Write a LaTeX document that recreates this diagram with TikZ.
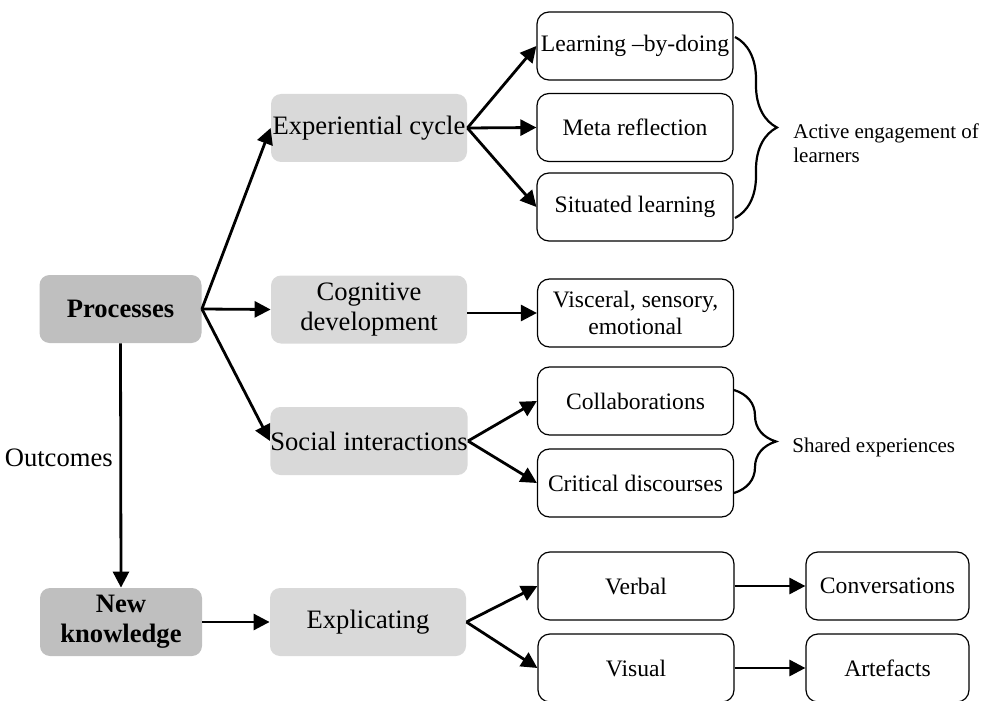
\documentclass[tikz,border=0pt]{standalone}
\usepackage{fontspec}
\setmainfont{Liberation Serif}
\usetikzlibrary{arrows.meta,decorations.pathreplacing}

\begin{document}
\begin{tikzpicture}[x=0.5pt,y=-0.5pt,
	main/.style={rounded corners=5pt, fill=gray!50, minimum width=81pt, minimum height=34pt, inner sep=0pt, align=center, font=\fontsize{13.3}{15}\selectfont\bfseries},
	stage/.style={rounded corners=5pt, fill=gray!30, minimum width=98pt, minimum height=34pt, inner sep=0pt, align=center, font=\fontsize{13.3}{15}\selectfont},
	item/.style={draw, line width=0.6pt, rounded corners=6pt, minimum width=98pt, minimum height=34pt, inner sep=0pt, align=center, font=\fontsize{11.8}{13.5}\selectfont},
	arr/.style={-{Triangle[length=8pt,width=8pt]}, line width=1.4pt},
	brc/.style={decorate, decoration={brace, amplitude=21pt}, line width=1.1pt},
	note/.style={align=left, inner sep=0pt, font=\fontsize{10.5}{12}\selectfont}]
					\clip (0,0) rectangle (986,701);
					\node[main] (proc) at (120.5,309) {Processes};
					\node[main, text depth=3pt] (newk) at (121,622) {New\\knowledge};
					\node[stage] (exper) at (369,128) {Experiential cycle};
					\node[stage] (cogn) at (369,309.5) {Cognitive\\development};
					\node[stage] (soc) at (369,441) {Social interactions};
					\node[stage] (expl) at (368,622) {Explicating};
					\node[item] (learn) at (635,46) {Learning --by-doing};
					\node[item] (meta) at (635,127.5) {Meta reflection};
					\node[item] (sit) at (635,207) {Situated learning};
					\node[item] (visc) at (635.5,313) {Visceral, sensory,\\emotional};
					\node[item] (coll) at (635.5,401) {Collaborations};
					\node[item] (crit) at (635.5,483) {Critical discourses};
					\node[item] (verb) at (636,586) {Verbal};
					\node[item] (vis) at (636,668) {Visual};
					\node[item, minimum width=81.5pt] (conv) at (887.5,586) {Conversations};
					\node[item, minimum width=81.5pt] (art) at (887.5,668) {Artefacts};
					\coordinate (b1) at (735,37);
					\coordinate (b2) at (735,218);
					\coordinate (b3) at (734,390);
					\coordinate (b4) at (734,493);
					% left part
					\draw[arr] (proc.east) -- (exper.west);
					\draw[arr] (proc.east) -- (cogn.west);
					\draw[arr] (proc.east) -- (soc.west);
					\draw[arr] (proc.south) -- (newk.north) node[pos=0.47, left, font=\fontsize{13.3}{15}\selectfont] {Outcomes};
					\draw[arr] (newk.east) -- (expl.west);
					% right part
					\draw[arr] (exper.east) -- (learn.west);
					\draw[arr] (exper.east) -- (meta.west);
					\draw[arr] (exper.east) -- (sit.west);
					\draw[arr] (cogn.east |- visc.west) -- (visc.west);
					\draw[arr] (soc.east) -- (coll.west);
					\draw[arr] (soc.east) -- (crit.west);
					\draw[arr] (expl.east) -- (verb.west);
					\draw[arr] (expl.east) -- (vis.west);
					\draw[arr] (verb.east) -- (conv.west);
					\draw[arr] (vis.east) -- (art.west);
					% braces
					\draw[brc] (b1) -- (b2);
					\draw[brc] (b3) -- (b4);
					\node[note, anchor=north west] (act) at (793,123) {Active engagement of\\learners};
					\node[note, anchor=west] (shr) at (792,447) {Shared experiences};
					\end{tikzpicture}
\end{document}
